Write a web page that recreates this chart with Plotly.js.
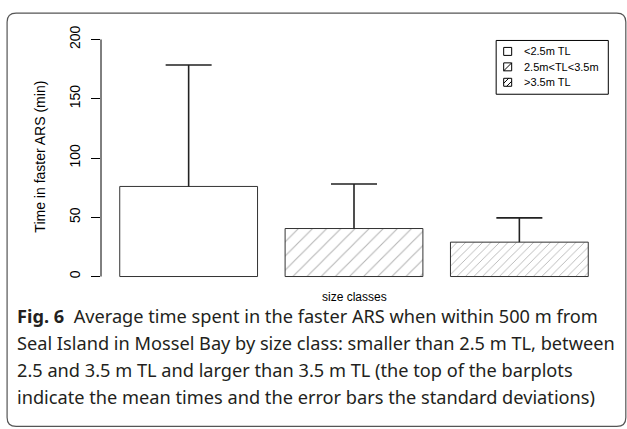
<!DOCTYPE html>
<html>
<head>
<meta charset="utf-8">
<script src="https://cdn.plot.ly/plotly-3.0.1.min.js"></script>
<style>html,body{margin:0;padding:0;background:#fff;}#chart{width:627px;height:429px;}</style>
</head>
<body>
<div id="chart"></div>
<script>
// ---- data ----
const categories = ["<2.5m TL", "2.5m<TL<3.5m", ">3.5m TL"];
const meanTimes = [76, 40.5, 29];
const sdTimes = [102.5, 37.5, 20.5];
const yTicks = [0, 50, 100, 150, 200];
const yTitle = "Time in faster ARS (min)";
const xTitle = "size classes";
const captionLines = [
  "<b>Fig. 6</b>  Average time spent in the faster ARS when within 500 m from",
  "Seal Island in Mossel Bay by size class: smaller than 2.5 m TL, between",
  "2.5 and 3.5 m TL and larger than 3.5 m TL (the top of the barplots",
  "indicate the mean times and the error bars the standard deviations)"
];

// ---- layout helpers ----
const W = 627, H = 429;
const M = {l: 101.3, r: 20.3, t: 29.5, b: 142.5};
const PW = W - M.l - M.r, PH = H - M.t - M.b;
const px = x => (x - M.l) / PW;
const py = y => 1 - (y - M.t) / PH;
const AX = "Liberation Sans, Arial, sans-serif";

const patterns = [
  {shape: "", fillmode: "replace"},
  {shape: "/", fgcolor: "#b4b4b4", bgcolor: "#ffffff", size: 10, solidity: 0.1, fillmode: "replace"},
  {shape: "/", fgcolor: "#b4b4b4", bgcolor: "#ffffff", size: 6, solidity: 0.15, fillmode: "replace"}
];

const traces = [];
categories.forEach((c, i) => {
  // bar with the vertical part of the error bar (no caps)
  traces.push({
    type: "bar", x: [c], y: [meanTimes[i]], name: c, width: 1 / 1.2, showlegend: false,
    marker: {color: "#ffffff", line: {color: "#333333", width: 1}, pattern: patterns[i]},
    error_y: {type: "data", symmetric: false, array: [sdTimes[i]], arrayminus: [0],
              color: "#222222", thickness: 1.6, width: 0},
    hoverinfo: "skip"
  });
  // cap at the top of the error bar
  traces.push({
    type: "scatter", mode: "markers", x: [c], y: [meanTimes[i] + sdTimes[i]], showlegend: false,
    marker: {size: 1, opacity: 0},
    error_y: {type: "data", array: [0], color: "#222222", thickness: 1.6, width: 23},
    hoverinfo: "skip"
  });
});

// rounded frame
function framePath(x0, y0, x1, y1, r) {
  const P = (x, y) => px(x) + "," + py(y);
  return "M" + P(x0 + r, y0) + " L" + P(x1 - r, y0) + " Q" + P(x1, y0) + " " + P(x1, y0 + r) +
    " L" + P(x1, y1 - r) + " Q" + P(x1, y1) + " " + P(x1 - r, y1) +
    " L" + P(x0 + r, y1) + " Q" + P(x0, y1) + " " + P(x0, y1 - r) +
    " L" + P(x0, y0 + r) + " Q" + P(x0, y0) + " " + P(x0 + r, y0) + " Z";
}

const annotations = [
  {text: yTitle, xref: "paper", yref: "paper", x: px(40), y: py(157), textangle: -90,
   showarrow: false, xanchor: "center", yanchor: "middle",
   font: {family: AX, size: 14, color: "#000"}},
  {text: xTitle, xref: "paper", yref: "paper", x: px(354), y: py(298),
   showarrow: false, xanchor: "center", yanchor: "middle",
   font: {family: AX, size: 12, color: "#000"}}
];
const capY = [317, 344, 371, 398];
captionLines.forEach((t, i) => annotations.push({
  text: t, xref: "paper", yref: "paper", x: px(15), y: py(capY[i]),
  showarrow: false, xanchor: "left", yanchor: "middle", align: "left",
  font: {family: "Noto Sans, Open Sans, sans-serif", size: 18.2, color: "#231f20"}
}));

// custom legend (R style)
const shapes = [
  {type: "line", xref: "paper", yref: "y", x0: 0, x1: 0, y0: yTicks[0], y1: yTicks[yTicks.length - 1],
   line: {color: "#000", width: 1}},
  {type: "path", xref: "paper", yref: "paper", path: framePath(7.5, 12.5, 625.5, 427.5, 9),
   line: {color: "#555", width: 1.2}, fillcolor: "rgba(0,0,0,0)", layer: "below"},
  {type: "rect", xref: "paper", yref: "paper", x0: px(496), x1: px(608), y0: py(40), y1: py(94),
   line: {color: "#000", width: 1}, fillcolor: "#fff"}
];
const legRows = [51, 66.5, 82];
const kx0 = 503.5, kx1 = 511.5, ks = 8;
categories.forEach((c, i) => {
  const yc = legRows[i];
  shapes.push({type: "rect", xref: "paper", yref: "paper", x0: px(kx0), x1: px(kx1),
               y0: py(yc - ks / 2), y1: py(yc + ks / 2), line: {color: "#000", width: 1}, fillcolor: "#fff"});
  if (i === 1) {
    shapes.push({type: "line", xref: "paper", yref: "paper", x0: px(kx0), y0: py(yc + ks / 2),
                 x1: px(kx1), y1: py(yc - ks / 2), line: {color: "#000", width: 1}});
  }
  if (i === 2) {
    shapes.push({type: "line", xref: "paper", yref: "paper", x0: px(kx0), y0: py(yc + 1),
                 x1: px(kx0 + 5), y1: py(yc - ks / 2), line: {color: "#000", width: 1}});
    shapes.push({type: "line", xref: "paper", yref: "paper", x0: px(kx0 + 3), y0: py(yc + ks / 2),
                 x1: px(kx1), y1: py(yc - 1), line: {color: "#000", width: 1}});
  }
  annotations.push({text: c, xref: "paper", yref: "paper", x: px(522), y: py(yc),
                    showarrow: false, xanchor: "left", yanchor: "middle",
                    font: {family: AX, size: 11, color: "#000"}});
});

const layout = {
  width: W, height: H,
  margin: M,
  paper_bgcolor: "#ffffff", plot_bgcolor: "rgba(0,0,0,0)",
  showlegend: false,
  barmode: "overlay",
  font: {family: AX, color: "#000"},
  xaxis: {type: "category", range: [-0.53, 2.53], showticklabels: false, showgrid: false,
          zeroline: false, showline: false, ticks: "", fixedrange: true},
  yaxis: {range: [-8, 208], tickvals: yTicks, ticktext: yTicks.map(String), ticks: "outside",
          ticklen: 9, tickcolor: "#000", tickwidth: 1, tickangle: -90, showgrid: false,
          zeroline: false, showline: false, ticklabelstandoff: 5,
          tickfont: {family: AX, size: 14, color: "#000"}},
  shapes: shapes,
  annotations: annotations
};

Plotly.newPlot("chart", traces, layout, {staticPlot: true, displayModeBar: false});
</script>
</body>
</html>
